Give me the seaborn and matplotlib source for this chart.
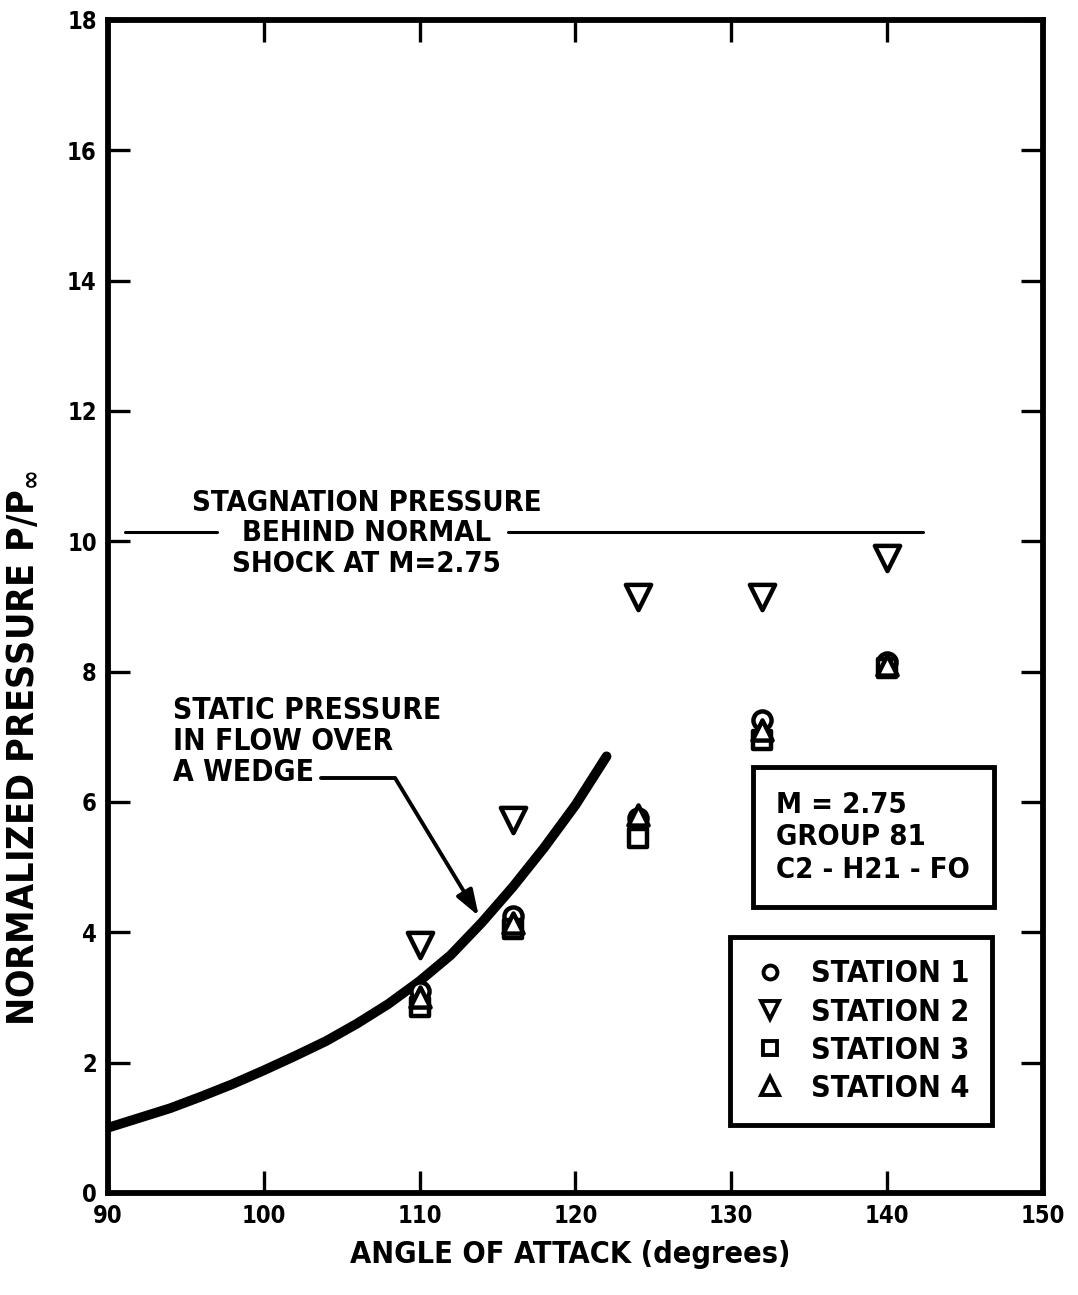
import matplotlib
matplotlib.use("Agg")
import matplotlib.pyplot as plt
import seaborn as sns
import pandas as pd
from matplotlib.lines import Line2D

# Measured pressures at each station
angles = [110, 116, 124, 132, 140]
station1 = [3.1, 4.25, 5.75, 7.25, 8.15]
station2 = [3.8, 5.72, 9.14, 9.14, 9.75]
station3 = [2.85, 4.05, 5.45, 6.95, 8.05]
station4 = [3.0, 4.15, 5.8, 7.1, 8.1]

# Static pressure behind an oblique shock on a wedge
wedge_angle = [90, 92, 94, 96, 98, 100, 102, 104, 106, 108, 110, 112, 114, 116, 118, 120, 122]
wedge_p = [1.0, 1.15, 1.3, 1.48, 1.67, 1.88, 2.1, 2.33, 2.6, 2.9, 3.25, 3.65, 4.15, 4.7, 5.3, 5.95, 6.7]

# Normal-shock stagnation pressure at M = 2.75
stag_p = 10.15

station_names = ["STATION 1", "STATION 2", "STATION 3", "STATION 4"]
station_markers = ["o", "v", "s", "^"]
station_sizes = [170, 330, 150, 210]

sns.set_theme(style="ticks")
FONT = ["DejaVu Sans"]
plt.rcParams.update({
    "font.family": FONT,
    "font.weight": "bold",
    "font.stretch": "condensed",
    "mathtext.fontset": "dejavusans",
    "text.color": "black",
    "axes.labelcolor": "black",
    "xtick.color": "black",
    "ytick.color": "black",
})

fig = plt.figure(figsize=(10.78, 12.95), dpi=100)
ax = fig.add_axes([0.100, 0.0788, 0.8675, 0.9058])

df = pd.DataFrame({
    "angle": angles * 4,
    "pressure": station1 + station2 + station3 + station4,
    "station": sum([[n] * len(angles) for n in station_names], []),
})

for name, mk, sz in zip(station_names, station_markers, station_sizes):
    sub = df[df["station"] == name]
    sns.scatterplot(data=sub, x="angle", y="pressure", marker=mk, s=sz,
                    facecolor="white", edgecolor="black", linewidth=3.2,
                    ax=ax, legend=False, zorder=4)

wedge_df = pd.DataFrame({"angle": wedge_angle, "pressure": wedge_p})
sns.lineplot(data=wedge_df, x="angle", y="pressure", color="black",
             linewidth=7, ax=ax, zorder=3, solid_capstyle="round")

# Stagnation pressure line, broken around its label
ax.plot([91.1, 97.0], [stag_p, stag_p], color="black", lw=2.2)
ax.plot([115.7, 142.3], [stag_p, stag_p], color="black", lw=2.2)

ax.text(106.6, 10.12, "STAGNATION PRESSURE\nBEHIND NORMAL\nSHOCK AT M=2.75",
        ha="center", va="center", linespacing=1.1, fontweight="bold",
        fontsize=21)

ax.text(94.2, 6.93, "STATIC PRESSURE\nIN FLOW OVER\nA WEDGE",
        ha="left", va="center", linespacing=1.1, fontweight="bold",
        fontsize=21.5)

# Leader line with arrow onto the wedge curve
ax.plot([103.7, 108.45], [6.36, 6.36], color="black", lw=2.8)
ax.annotate("", xy=(113.8, 4.25), xytext=(108.45, 6.36),
            arrowprops=dict(arrowstyle="-|>,head_length=1.3,head_width=0.45",
                            color="black", lw=2.8, shrinkA=0, shrinkB=0))

# Run-condition box
ax.text(132.9, 5.46, "M = 2.75\nGROUP 81\nC2 - H21 - FO",
        ha="left", va="center", linespacing=1.2,
        fontweight="bold", fontsize=21,
        bbox=dict(boxstyle="square,pad=0.8", facecolor="white",
                  edgecolor="black", linewidth=3.5))

handles = [Line2D([], [], marker=m, linestyle="none", markersize=ms,
                  markerfacecolor="white", markeredgecolor="black",
                  markeredgewidth=2.8)
           for m, ms in zip(station_markers, [10, 13, 10, 13])]
leg = ax.legend(handles, station_names, loc="lower right",
                bbox_to_anchor=(0.9455, 0.058), borderaxespad=0.0,
                frameon=True, fancybox=False,
                handlelength=1.2, handletextpad=0.75, labelspacing=0.3,
                borderpad=0.72, prop=dict(weight="bold", size=22,
                                          stretch="condensed"))
leg.get_frame().set_edgecolor("black")
leg.get_frame().set_linewidth(3.5)
leg.get_frame().set_alpha(1)
for t in leg.get_texts():
    t.set_color("black")

ax.set_xlim(90, 150)
ax.set_ylim(0, 18)
ax.set_xticks([90, 100, 110, 120, 130, 140, 150])
ax.set_yticks(range(0, 19, 2))
ax.tick_params(direction="in", length=16, width=2.4, top=True, right=True,
               labelsize=17, pad=8, colors="black")
for lab in ax.get_xticklabels() + ax.get_yticklabels():
    lab.set_fontweight("bold")
for sp in ax.spines.values():
    sp.set_linewidth(4.2)
    sp.set_color("black")

ax.set_xlabel("ANGLE OF ATTACK (degrees)", fontweight="bold", fontsize=22)
ax.set_ylabel(r"NORMALIZED PRESSURE P/P$_{\infty}$", fontweight="bold",
              fontsize=27)
ax.xaxis.set_label_coords(0.494, -0.040)
ax.yaxis.set_label_coords(-0.073, 0.379)

fig.savefig("out.png", dpi=100, facecolor="white")
